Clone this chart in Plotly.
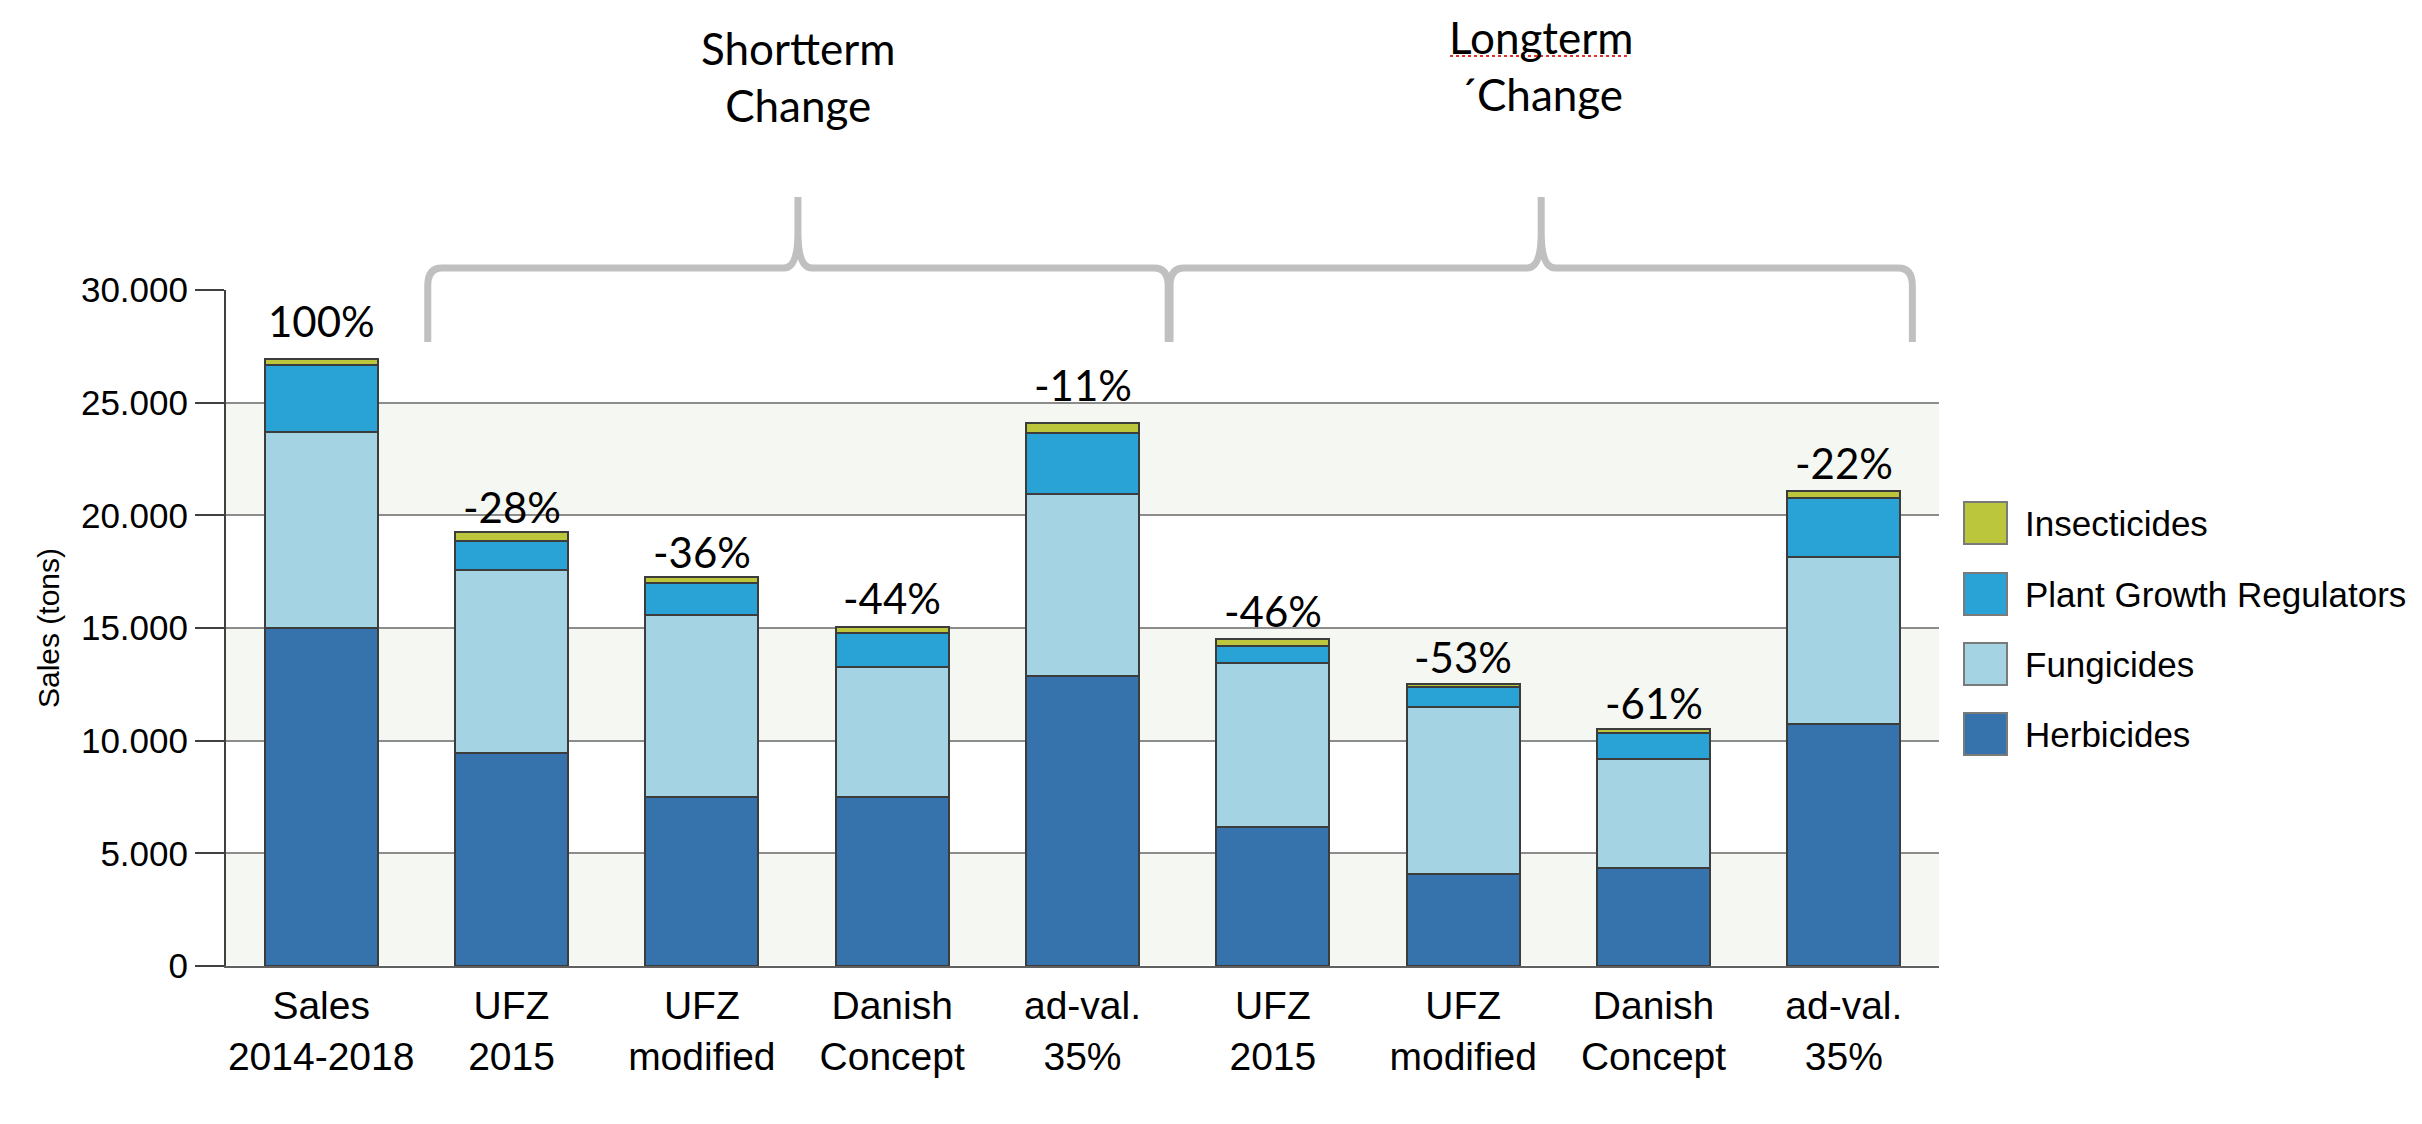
import plotly.graph_objects as go

# categories (x axis)
categories = ['Sales<br>2014-2018', 'UFZ<br>2015', 'UFZ<br>modified', 'Danish<br>Concept', 'ad-val.<br>35%',
              'UFZ<br>2015', 'UFZ<br>modified', 'Danish<br>Concept', 'ad-val.<br>35%']

# sales in tons per pesticide group
herbicides = [14980, 9450, 7510, 7510, 12850, 6170, 4080, 4340, 10740]
fungicides = [8700, 8120, 8080, 5740, 8085, 7290, 7410, 4860, 7430]
growth_regulators = [2985, 1290, 1410, 1545, 2730, 740, 890, 1150, 2600]
insecticides = [270, 410, 280, 265, 415, 310, 155, 155, 310]

change_labels = ['100%', '-28%', '-36%', '-44%', '-11%', '-46%', '-53%', '-61%', '-22%']

group_names = ['Shortterm<br>Change', 'Longterm<br>´Change']

series_names = ['Herbicides', 'Fungicides', 'Plant Growth Regulators', 'Insecticides']
series_values = [herbicides, fungicides, growth_regulators, insecticides]
series_colors = ['#3672ab', '#a4d3e3', '#29a3d6', '#bcc63c']

# layout helpers (pixel positions measured on the reference page)
OFF = 8  # default body margin of the html page
W, H = 2422, 1124
L, T = 226 - OFF, 290 - OFF
R, B = W - (1939 - OFF), H - (966 - OFF)
PW, PH = W - L - R, H - T - B
n = len(categories)


def px_x(x):
    return (x - OFF - L) / PW


def px_y(y):
    return (H - B - (y - OFF)) / PH


def idx_x(i):
    return (i + 0.5) / n


label_lift = [38, 25, 25, 29, 38, 28, 27, 26, 28]
brace_spans = [(0.56, 4.45), (4.46, 8.36)]
brace_title_y = [76, 65]

x_pos = list(range(n))
totals = [sum(v) for v in zip(*series_values)]

fig = go.Figure()
for name, vals, col in zip(series_names, series_values, series_colors):
    fig.add_trace(go.Bar(x=x_pos, y=vals, name=name, showlegend=False,
                         marker=dict(color=col, line=dict(color='#3c3c3c', width=2))))

# alternating shaded bands
for lo in range(0, 30000, 10000):
    fig.add_shape(type='rect', xref='paper', yref='y', x0=0, x1=1, y0=lo, y1=lo + 5000,
                  fillcolor='#f5f7f2', line_width=0, layer='below')

# percentage labels above bars
for i, (tot, lab, lift) in enumerate(zip(totals, change_labels, label_lift)):
    fig.add_annotation(x=i, y=tot, text=lab, showarrow=False, yanchor='middle', yshift=lift,
                       font=dict(family='Lato', size=42, color='black'))

# braces with group titles
rx, ry = 14 / PW, 18 / PH
for name, (a, b), ty in zip(group_names, brace_spans, brace_title_y):
    x0, x1 = idx_x(a), idx_x(b)
    xm = (x0 + x1) / 2
    yb, yh, yp = px_y(342), px_y(268), px_y(197)
    path = (f"M{x0},{yb} L{x0},{yh - ry} Q{x0},{yh} {x0 + rx},{yh} L{xm - rx},{yh} "
            f"Q{xm},{yh} {xm},{yh + 2 * ry} L{xm},{yp} L{xm},{yh + 2 * ry} "
            f"Q{xm},{yh} {xm + rx},{yh} L{x1 - rx},{yh} Q{x1},{yh} {x1},{yh - ry} L{x1},{yb}")
    fig.add_shape(type='path', path=path, xref='paper', yref='paper',
                  line=dict(color='#c0c0c0', width=7), fillcolor='rgba(0,0,0,0)')
    fig.add_annotation(x=xm, y=px_y(ty), xref='paper', yref='paper', text=name, showarrow=False,
                       xanchor='center', yanchor='middle',
                       font=dict(family='Lato', size=44, color='black'))

# spell-check squiggle under "Longterm"
fig.add_shape(type='line', xref='paper', yref='paper', x0=px_x(1450), x1=px_x(1630),
              y0=px_y(56), y1=px_y(56), line=dict(color='#e03030', width=2, dash='dot'))

# manual legend
leg_y = [523, 594, 664, 734]
for name, col, y in zip(series_names[::-1], series_colors[::-1], leg_y):
    fig.add_shape(type='rect', xref='paper', yref='paper', x0=px_x(1964), x1=px_x(2007),
                  y0=px_y(y + 21), y1=px_y(y - 21), fillcolor=col, line=dict(color='#7a7a7a', width=2))
    fig.add_annotation(x=px_x(2023), y=px_y(y), xref='paper', yref='paper', text=name, showarrow=False,
                       xanchor='left', yanchor='middle',
                       font=dict(family='Liberation Sans', size=35, color='black'))

fig.update_layout(
    width=W, height=H,
    margin=dict(l=L, r=R, t=T, b=B),
    paper_bgcolor='white', plot_bgcolor='white',
    barmode='stack', bargap=0.405,
    font=dict(family='Liberation Sans', color='black'),
)
fig.update_xaxes(tickvals=x_pos, ticktext=categories, range=[-0.5, n - 0.5],
                 showline=True, linecolor='#606060', linewidth=2, showgrid=False,
                 tickfont=dict(size=39, color='black'), ticks='outside', ticklen=4, tickcolor='white')
fig.update_yaxes(range=[0, 30000], tickvals=[0, 5000, 10000, 15000, 20000, 25000, 30000],
                 ticktext=['0', '5.000', '10.000', '15.000', '20.000', '25.000', '30.000'],
                 showline=True, linecolor='#404040', linewidth=2,
                 showgrid=True, gridcolor='#8c8c8c', gridwidth=1.5,
                 ticks='outside', ticklen=29, tickcolor='#404040', tickwidth=2,
                 tickfont=dict(size=35, color='black'),
                 title=dict(text='Sales (tons)', font=dict(size=30, color='black'), standoff=12))

fig.write_html("out.html")
